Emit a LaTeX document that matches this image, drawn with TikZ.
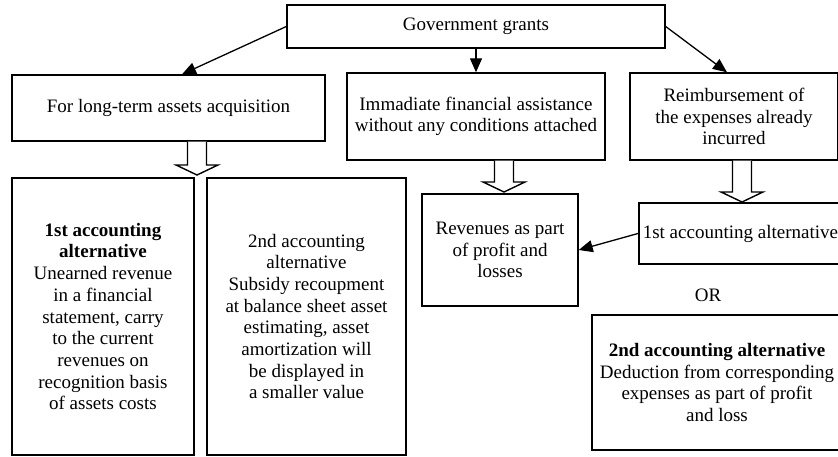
\documentclass[tikz,border=0pt]{standalone}
\usepackage{fontspec}
\setmainfont{Liberation Serif}
\usetikzlibrary{arrows.meta,calc}
\tikzset{
	box/.style={draw,line width=1.4pt,align=center},
	arr/.style={line width=1.3pt,-{Triangle[length=14pt,width=12pt]}},
	fat/.style={line width=1.4pt,fill=white}
}
% hollow arrow: #1 start on a box edge, #2 the tip
\newcommand{\fatarrow}[2]{%
	\draw[fat] ($(#1)+(-9.5,0)$) -- ($(#2)+(-9.5,-10)$) -- ++(-11.5,0) -- (#2)
	-- ++(21,-10) -- ++(-11.5,0) -- ($(#1)+(9.5,0)$);}
\begin{document}
\begin{tikzpicture}[x=1pt,y=-1pt,font=\fontsize{19}{21.7}\selectfont]%GRANTS
			\useasboundingbox (0,0) rectangle (838,457);
			\node[box,minimum width=378pt,minimum height=43pt] (gov) at (476,26.5) {Government grants};
			\node[box,minimum width=313pt,minimum height=66pt] (lt) at (168.5,108) {For long-term assets acquisition};
			\node[box,minimum width=258pt,minimum height=87pt] (imm) at (476,116.5) {Immadiate financial assistance\\without any conditions attached};
			\node[box,minimum width=208pt,minimum height=87pt] (reimb) at (734,116.5) {Reimbursement of\\the expenses already\\incurred};
			\node[box,line width=1.8pt,minimum width=182pt,minimum height=277pt] (altA) at (103,316.5)
			{\textbf{1st accounting}\\\textbf{alternative}\\Unearned revenue\\in a financial\\statement, carry\\to the current\\revenues on\\recognition basis\\of assets costs};
			\node[box,line width=1.8pt,minimum width=199pt,minimum height=277pt] (altB) at (306.5,316.5)
			{2nd accounting\\alternative\\Subsidy recoupment\\at balance sheet asset\\estimating, asset\\amortization will\\be displayed in\\a smaller value};
			\node[box,minimum width=156pt,minimum height=112pt] (rev) at (500,250) {Revenues as part\\of profit and\\losses};
			\node[box,line width=1.6pt,anchor=west,minimum height=61pt,inner xsep=4pt] (altC) at (638,233.5) {1st accounting alternative};
			\node (or) at (708,295) {OR};
			\node[box,line width=1.6pt,minimum width=250pt,minimum height=135pt] (altD) at (717,382.5)
			{\textbf{2nd accounting alternative}\\Deduction from corresponding\\expenses as part of profit\\and loss};
			\draw[arr] (gov.west) -- ([xshift=13.5pt]lt.north);
			\draw[arr] (gov.south) -- (imm.north);
			\draw[arr] (gov.east) -- ([xshift=-7pt]reimb.north);
			\draw[arr] (altC.west) -- (rev.east);
			\coordinate (tipA) at (197,175);
			\coordinate (tipB) at (504,192);
			\coordinate (tipC) at (742,202);
			\fatarrow{lt.south -| tipA}{tipA}
			\fatarrow{imm.south -| tipB}{tipB}
			\fatarrow{reimb.south -| tipC}{tipC}
			%three hollow arrows point down to the alternatives
\end{tikzpicture}
\end{document}
